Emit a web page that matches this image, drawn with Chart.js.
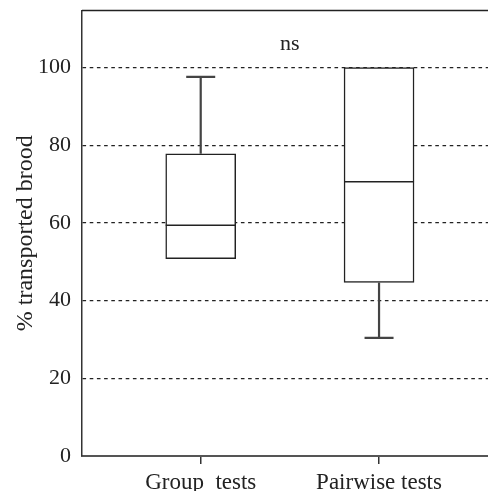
<!DOCTYPE html>
<html>
<head>
<meta charset="utf-8">
<script src="https://cdn.jsdelivr.net/npm/chart.js@4.4.0/dist/chart.umd.min.js"></script>
<style>
  body { margin: 0; background: #fff; }
  #wrap { width: 488px; height: 491px; }
</style>
</head>
<body>
<div id="wrap"><canvas id="box-chart"></canvas></div>
<script>
// box plot values (% transported brood)
let categories = ['Group  tests', 'Pairwise tests'];
let positions = [1, 2];
let mins = [50.8, 30.4];
let q1s = [50.8, 44.7];
let medians = [59.4, 70.6];
let q3s = [77.8, 100];
let maxs = [97.6, 100];
let yTicks = [0, 20, 40, 60, 80, 100];
let note = 'ns';

const ink = '#222';

// whiskers, caps, medians, top frame line and the "ns" note
const boxExtras = {
    id: 'boxExtras',
    afterDatasetsDraw(chart) {
        const ctx = chart.ctx;
        const xs = chart.scales.x;
        const ys = chart.scales.y;
        const meta = chart.getDatasetMeta(0);
        const area = chart.chartArea;

        ctx.save();
        ctx.lineCap = 'butt';

        positions.forEach((p, i) => {
            let bar = meta.data[i];
            let x = xs.getPixelForValue(p);
            let half = bar.width / 2;

            // median
            ctx.strokeStyle = ink;
            ctx.lineWidth = 1.6;
            ctx.beginPath();
            let ym = ys.getPixelForValue(medians[i]);
            ctx.moveTo(x - half, ym);
            ctx.lineTo(x + half, ym);
            ctx.stroke();

            // whiskers
            ctx.strokeStyle = '#444';
            ctx.lineWidth = 2.2;
            let capHalf = 14.5;
            if (maxs[i] > q3s[i]) {
                let y1 = ys.getPixelForValue(q3s[i]);
                let y2 = ys.getPixelForValue(maxs[i]);
                ctx.beginPath();
                ctx.moveTo(x, y1);
                ctx.lineTo(x, y2);
                ctx.moveTo(x - capHalf, y2);
                ctx.lineTo(x + capHalf, y2);
                ctx.stroke();
            }
            if (mins[i] < q1s[i]) {
                let y1 = ys.getPixelForValue(q1s[i]);
                let y2 = ys.getPixelForValue(mins[i]);
                ctx.beginPath();
                ctx.moveTo(x, y1);
                ctx.lineTo(x, y2);
                ctx.moveTo(x - capHalf, y2);
                ctx.lineTo(x + capHalf, y2);
                ctx.stroke();
            }
        });

        // top frame line
        ctx.strokeStyle = ink;
        ctx.lineWidth = 1.5;
        ctx.beginPath();
        ctx.moveTo(area.left, area.top);
        ctx.lineTo(area.right, area.top);
        ctx.stroke();

        // significance note
        ctx.fillStyle = ink;
        ctx.font = '22px "Liberation Serif"';
        ctx.textAlign = 'center';
        ctx.textBaseline = 'middle';
        ctx.fillText(note, xs.getPixelForValue(1.5), ys.getPixelForValue(106));
        ctx.restore();
    }
};

const data = {
    datasets: [{
        label: 'box',
        data: positions.map((p, i) => ({ x: p, y: [q1s[i], q3s[i]] })),
        backgroundColor: '#fff',
        borderColor: ink,
        borderWidth: 1.5,
        borderSkipped: false,
        barThickness: 70
    }]
};

let config = {
    type: 'bar',
    data: data,
    options: {
        responsive: true,
        maintainAspectRatio: false,
        animation: false,
        layout: { padding: { top: 10.5, right: 0, left: 0, bottom: 0 } },
        plugins: {
            legend: { display: false },
            tooltip: { enabled: false }
        },
        scales: {
            x: {
                type: 'linear',
                offset: false,
                min: 0.3343,
                max: 2.611,
                afterBuildTicks: (scale) => {
                    scale.ticks = positions.map(v => ({ value: v }));
                },
                afterFit: (scale) => {
                    scale.height = 35;
                    scale.paddingLeft = 0;
                    scale.paddingRight = 0;
                },
                ticks: {
                    callback: (v) => categories[positions.indexOf(v)],
                    color: ink,
                    font: { family: 'Liberation Serif', size: 23 },
                    padding: 5,
                    maxRotation: 0,
                    autoSkip: false
                },
                grid: {
                    display: true,
                    offset: false,
                    drawOnChartArea: false,
                    drawTicks: true,
                    tickLength: 8,
                    color: '#333',
                    lineWidth: 1.5
                },
                border: { display: true, color: '#555', width: 2 }
            },
            y: {
                min: 0,
                max: 114.7,
                afterBuildTicks: (scale) => {
                    scale.ticks = yTicks.map(v => ({ value: v }));
                },
                afterFit: (scale) => {
                    scale.width = 82;
                    scale.paddingTop = 0;
                    scale.paddingBottom = 0;
                },
                ticks: {
                    color: ink,
                    font: { family: 'Liberation Serif', size: 22 },
                    padding: 11
                },
                grid: {
                    color: (c) => c.tick && c.tick.value === 0 ? 'rgba(0,0,0,0)' : ink,
                    lineWidth: 1.3,
                    drawTicks: false
                },
                border: { display: true, color: '#333', width: 1.5, dash: [3.6, 3.6] },
                title: {
                    display: true,
                    text: '% transported brood',
                    color: ink,
                    font: { family: 'Liberation Serif', size: 24 },
                    padding: { top: 11, bottom: 0 }
                }
            }
        }
    },
    plugins: [boxExtras]
};

new Chart(document.getElementById('box-chart'), config);
</script>
</body>
</html>
